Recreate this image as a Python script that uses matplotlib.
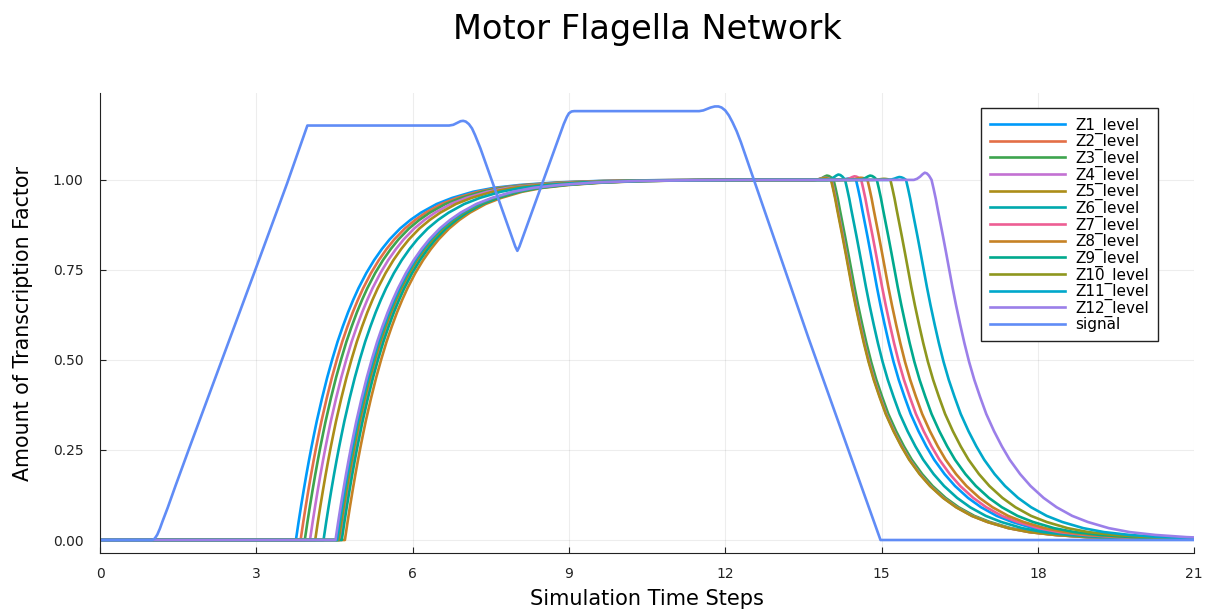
import numpy as np
import matplotlib.pyplot as plt

# Z1..Z12 levels plus the input signal
z_names = [f"Z{i}_level" for i in range(1, 13)]
z_colors = ["#009AFA", "#E36F47", "#3EA44E", "#C371D2", "#AC8D18", "#00A9AD",
            "#ED5E93", "#C68225", "#00A98D", "#8E971E", "#00A8CB", "#9B7FE9"]
signal_color = "#608CF6"

# time each Z starts to rise, time each Z starts to fall, size of the little overshoot
rise_start = [3.76, 3.85, 3.93, 4.03, 4.13, 4.29, 4.60, 4.70, 4.64, 4.58, 4.55, 4.52]
fall_start = [14.51, 14.04, 14.08, 14.04, 14.03, 14.30, 14.61, 14.73, 14.91, 15.17, 15.47, 15.96]
overshoot = [0.004, 0.006, 0.012, 0.006, 0.005, 0.015, 0.010, 0.006, 0.012, 0.003, 0.008, 0.020]

# rise shape (read from Z1), overshoot shape and fall shape (read from Z12)
rise_dt = [0, 0.05, 0.1, 0.15, 0.2, 0.25, 0.3, 0.35, 0.4, 0.5, 0.6, 0.7, 0.8, 0.9, 1.0, 1.1,
           1.2, 1.35, 1.5, 1.65, 1.8, 2.0, 2.2, 2.4, 2.7, 3.0, 3.4, 3.8, 4.3, 5.0, 5.8, 6.8, 8.0]
rise_y = [0, 0.049, 0.095, 0.139, 0.181, 0.221, 0.259, 0.295, 0.33, 0.393, 0.451, 0.503,
          0.551, 0.593, 0.632, 0.667, 0.699, 0.741, 0.777, 0.808, 0.835, 0.865, 0.889, 0.909,
          0.933, 0.950, 0.967, 0.978, 0.986, 0.993, 0.997, 0.999, 1.0]
bump_dt = [-0.34, -0.28, -0.22, -0.17, -0.13, -0.09, -0.05, -0.02]
bump_frac = [0, 0.15, 0.45, 0.8, 1.0, 0.9, 0.6, 0.25]
fall_dt = [0, 0.04, 0.08, 0.12, 0.17, 0.22, 0.28, 0.34, 0.4, 0.47, 0.55, 0.63, 0.72, 0.82,
           0.93, 1.05, 1.2, 1.35, 1.5, 1.7, 1.9, 2.15, 2.4, 2.7, 3.0, 3.4, 3.8, 4.3, 4.9, 5.6,
           6.3, 7.1]
fall_y = [1.0, 0.975, 0.948, 0.917, 0.88, 0.843, 0.797, 0.75, 0.703, 0.652, 0.598, 0.547,
          0.495, 0.445, 0.398, 0.35, 0.302, 0.26, 0.223, 0.183, 0.15, 0.117, 0.091, 0.067,
          0.05, 0.033, 0.022, 0.014, 0.008, 0.004, 0.002, 0.001]

signal_t = [0, 1.0, 1.05, 1.1, 1.15, 1.2, 1.3, 1.45, 1.7, 2.34, 2.98, 3.59, 3.98,
            6.7, 6.78, 6.85, 6.92, 6.97, 7.02, 7.08, 7.14, 7.2, 7.3, 7.97, 8.01, 8.05,
            8.9, 8.96, 9.0, 9.05, 9.1, 11.5, 11.58, 11.65, 11.72, 11.8, 11.87, 11.93,
            12.0, 12.07, 12.14, 12.22, 12.3, 13.6, 14.98, 21.0]
signal_y = [0, 0, 0.004, 0.015, 0.032, 0.052, 0.09, 0.151, 0.25, 0.5, 0.75, 0.99, 1.151,
            1.151, 1.153, 1.158, 1.163, 1.164, 1.162, 1.155, 1.143, 1.124, 1.088, 0.815,
            0.803, 0.815, 1.155, 1.175, 1.185, 1.19, 1.191, 1.191, 1.193, 1.197, 1.201,
            1.204, 1.204, 1.201, 1.193, 1.179, 1.16, 1.135, 1.105, 0.56, 0.0, 0.0]

T_END = 21.0


def z_curve(t_up, t_down, over):
    t = [0.0] + [t_up + d for d in rise_dt]
    y = [0.0] + list(rise_y)
    t += [t_down + d for d in bump_dt]
    y += [1.0 + f * over for f in bump_frac]
    t += [t_down + d for d in fall_dt]
    y += list(fall_y)
    t, y = np.array(t), np.array(y)
    keep = t <= T_END
    return np.append(t[keep], T_END), np.append(y[keep], np.interp(T_END, t, y))


fig, ax = plt.subplots(figsize=(12.05, 6.09), dpi=100)
fig.subplots_adjust(left=0.083, right=0.991, top=0.8465, bottom=0.092)

for name, col, t0, t1, ov in zip(z_names, z_colors, rise_start, fall_start, overshoot):
    tt, yy = z_curve(t0, t1, ov)
    ax.plot(tt, yy, color=col, lw=1.9, label=name)
ax.plot(signal_t, signal_y, color=signal_color, lw=1.9, label="signal")

ax.set_xlim(0, 21)
ax.set_ylim(-0.036, 1.24)
ax.set_xticks(range(0, 22, 3))
ax.set_yticks([0, 0.25, 0.5, 0.75, 1.0])
ax.set_yticklabels(["0.00", "0.25", "0.50", "0.75", "1.00"])
ax.grid(True, color="#000000", alpha=0.07, lw=0.8)
for side in ["top", "right"]:
    ax.spines[side].set_visible(False)
for side in ["left", "bottom"]:
    ax.spines[side].set_color("#222222")
ax.tick_params(direction="in", length=4, color="#222222", labelcolor="#222222", labelsize=10)
ax.tick_params(axis="x", pad=10)
ax.tick_params(axis="y", pad=12)

ax.set_xlabel("Simulation Time Steps", fontsize=15, labelpad=6)
ax.set_ylabel("Amount of Transcription Factor", fontsize=14.8, labelpad=14)
fig.suptitle("Motor Flagella Network", fontsize=24.2, x=0.537, y=0.978)

leg = ax.legend(loc="upper right", bbox_to_anchor=(0.967, 0.968), borderaxespad=0,
                fontsize=11, handlelength=4.9, handletextpad=0.65, labelspacing=0.03,
                borderpad=0.6, fancybox=False, framealpha=1, edgecolor="#222222")
leg.get_frame().set_linewidth(1)

fig.savefig("out.png", dpi=100)
